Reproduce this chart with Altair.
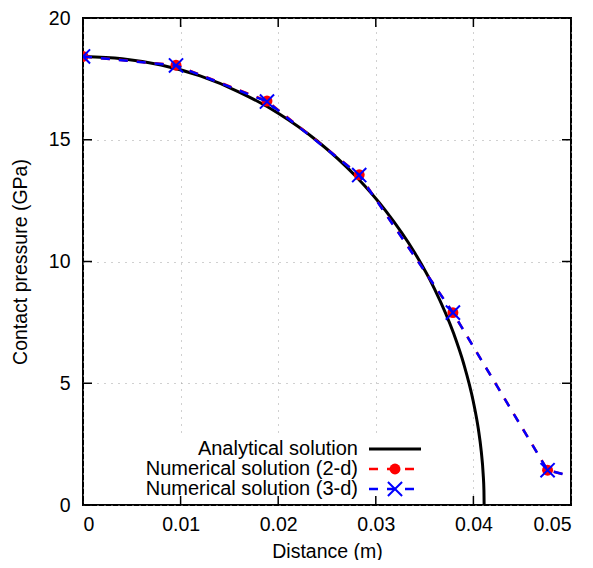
import altair as alt
import pandas as pd

# Analytical (Hertz) solution
ana_x = [0.0, 0.004, 0.008, 0.012, 0.016, 0.020, 0.024, 0.028, 0.031, 0.034,
         0.036, 0.038, 0.039, 0.040, 0.0405, 0.0408, 0.0410, 0.04108, 0.0411]
ana_y = [18.42, 18.33, 18.07, 17.62, 16.96, 16.09, 14.95, 13.48, 12.09, 10.35,
         8.89, 7.02, 5.81, 4.23, 3.14, 2.22, 1.28, 0.58, 0.0]

# Numerical solutions
num2_x = [0.0, 0.00953, 0.01885, 0.0283, 0.0379, 0.0476, 0.0571]
num2_y = [18.42, 18.06, 16.59, 13.56, 7.90, 1.43, 0.45]
num3_x = [0.0, 0.00953, 0.01885, 0.0283, 0.0379, 0.0476, 0.0571]
num3_y = [18.42, 18.05, 16.57, 13.55, 7.90, 1.43, 0.45]

x_ticks = [0, 0.01, 0.02, 0.03, 0.04, 0.05]
y_ticks = [0, 5, 10, 15, 20]
legend_labels = ["Analytical solution", "Numerical solution (2-d)", "Numerical solution (3-d)"]

FONT = "Liberation Sans"
FS = 19.5
LFS = 20
W = 488
H = 487

ana = pd.DataFrame({"x": ana_x, "y": ana_y})
n2 = pd.DataFrame({"x": num2_x, "y": num2_y})
n3 = pd.DataFrame({"x": num3_x, "y": num3_y})

xs = alt.Scale(domain=[0, 0.05], nice=False, zero=False)
ys = alt.Scale(domain=[0, 20], nice=False, zero=False)

common_axis = dict(
    labelFont=FONT, labelFontSize=FS, labelColor="black",
    titleFont=FONT, titleFontSize=FS, titleColor="black", titleFontWeight="normal",
    gridColor="#a0a0a0", gridDash=[1, 6], gridWidth=1, gridOpacity=1,
    grid=True, ticks=False, tickSize=0, domain=False,
)
xax = alt.Axis(values=x_ticks, format="~g", title="Distance (m)", labelPadding=10,
               titleY=52, titleBaseline="alphabetic", **common_axis)
yax = alt.Axis(values=y_ticks, title="Contact pressure (GPa)", labelPadding=13,
               titleX=-53, titleY=H / 2, titleAngle=-90, titleBaseline="bottom",
               titleAlign="center", **common_axis)

X = alt.X("x:Q", scale=xs, axis=xax)
Y = alt.Y("y:Q", scale=ys, axis=yax)
Xn = alt.X("x:Q", scale=xs)
Yn = alt.Y("y:Q", scale=ys)

# white opaque legend box (hides grid behind it)
box = alt.Chart(pd.DataFrame({"k": [0]})).mark_rect(color="white").encode(
    x=alt.value(57), x2=alt.value(347), y=alt.value(419), y2=alt.value(485)
)

base_axes = alt.Chart(ana).mark_line(opacity=0).encode(x=X, y=Y)

ana_line = alt.Chart(ana).mark_line(color="black", strokeWidth=3,
                                    interpolate="monotone").encode(x=Xn, y=Yn)

n2_line = alt.Chart(n2).mark_line(color="#ff0000", strokeWidth=2.5, strokeDash=[9, 9],
                                  clip=True).encode(x=Xn, y=Yn)
n2_pts = alt.Chart(n2).mark_point(shape="circle", filled=True, color="#ff0000", size=120,
                                  opacity=1, clip=True).encode(x=Xn, y=Yn)
n3_line = alt.Chart(n3).mark_line(color="#0000ff", strokeWidth=2.5, strokeDash=[9, 9],
                                  clip=True).encode(x=Xn, y=Yn)
XSHAPE = "M-1,-1L1,1M-1,1L1,-1"
n3_pts = alt.Chart(n3).mark_point(shape=XSHAPE, filled=False, color="#0000ff", size=200,
                                  strokeWidth=2, opacity=1, clip=True).encode(x=Xn, y=Yn)

# inward ticks on all four sides
xt = pd.DataFrame({"x": x_ticks})
yt = pd.DataFrame({"y": y_ticks})
tick_style = dict(color="black", strokeWidth=1.5)
xt_bot = alt.Chart(xt).mark_rule(**tick_style).encode(x=Xn, y=alt.value(H), y2=alt.value(H - 9))
xt_top = alt.Chart(xt).mark_rule(**tick_style).encode(x=Xn, y=alt.value(0), y2=alt.value(9))
yt_left = alt.Chart(yt).mark_rule(**tick_style).encode(y=Yn, x=alt.value(0), x2=alt.value(9))
yt_right = alt.Chart(yt).mark_rule(**tick_style).encode(y=Yn, x=alt.value(W), x2=alt.value(W - 9))

# legend (gnuplot style: right-aligned text, sample line + marker)
rows_y = [431, 451, 471]
leg = []
for lab, yy in zip(legend_labels, rows_y):
    leg.append(alt.Chart(pd.DataFrame({"t": [lab]})).mark_text(
        align="right", baseline="middle", font=FONT, fontSize=LFS, color="black"
    ).encode(text="t:N", x=alt.value(275), y=alt.value(yy)))

leg.append(alt.Chart(pd.DataFrame({"k": [0]})).mark_rule(color="black", strokeWidth=3).encode(
    x=alt.value(286), x2=alt.value(338), y=alt.value(rows_y[0])))
leg.append(alt.Chart(pd.DataFrame({"k": [0]})).mark_rule(color="#ff0000", strokeWidth=2.5,
                                                        strokeDash=[9, 9]).encode(
    x=alt.value(286), x2=alt.value(338), y=alt.value(rows_y[1])))
leg.append(alt.Chart(pd.DataFrame({"k": [0]})).mark_point(shape="circle", filled=True, color="#ff0000",
                                                         size=120, opacity=1).encode(
    x=alt.value(312), y=alt.value(rows_y[1])))
leg.append(alt.Chart(pd.DataFrame({"k": [0]})).mark_rule(color="#0000ff", strokeWidth=2.5,
                                                        strokeDash=[9, 9]).encode(
    x=alt.value(286), x2=alt.value(338), y=alt.value(rows_y[2])))
leg.append(alt.Chart(pd.DataFrame({"k": [0]})).mark_point(shape=XSHAPE, filled=False, color="#0000ff",
                                                         size=200, strokeWidth=2, opacity=1).encode(
    x=alt.value(312), y=alt.value(rows_y[2])))

chart = alt.layer(
    base_axes, box, ana_line, n2_line, n2_pts, n3_line, n3_pts,
    xt_bot, xt_top, yt_left, yt_right, *leg
).properties(
    width=W, height=H,
    background="white",
    autosize=alt.AutoSizeParams(type="none"),
    padding={"left": 75, "top": 10, "right": 14, "bottom": 55},
).configure_view(
    stroke="black", strokeWidth=2
)

chart.save("out.html", embed_options={"renderer": "svg", "actions": False})
